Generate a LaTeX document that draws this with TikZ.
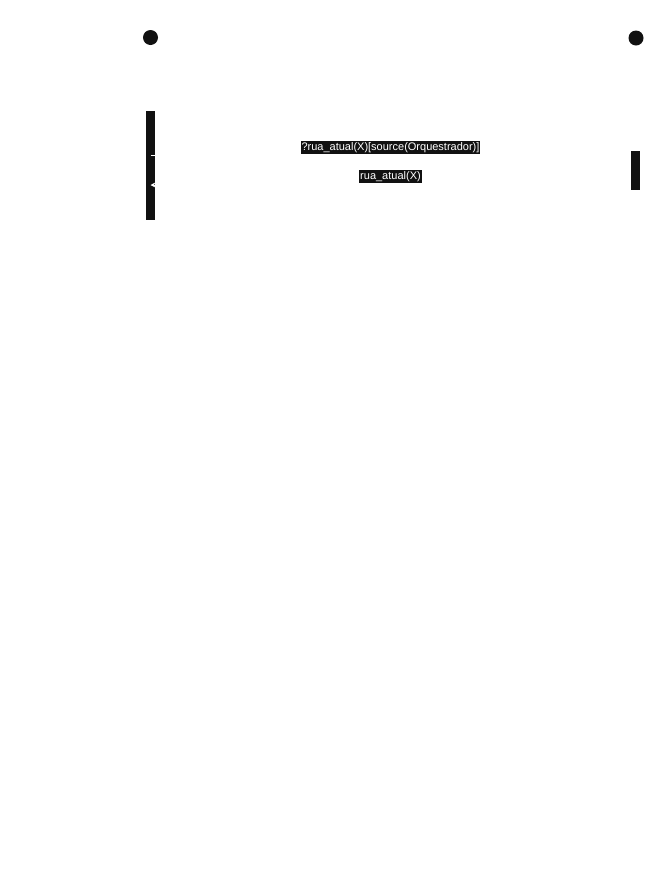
\documentclass[tikz,border=0pt]{standalone}
\usepackage{fontspec}
\setmainfont{Liberation Sans}
\usetikzlibrary{arrows.meta}
\definecolor{ink}{RGB}{17,17,17}
\begin{document}
\begin{tikzpicture}[x=1pt,y=-1pt,
    dot/.style={circle,fill=ink,inner sep=0pt,minimum size=15pt},
    bar/.style={fill=ink,inner sep=0pt,minimum width=9pt},
    msg/.style={fill=ink,text=white,inner sep=1pt,font=\fontsize{11}{12}\selectfont},
    wire/.style={white,line width=1pt,-{Stealth[length=5pt,width=5pt]}}]
    \useasboundingbox (0,0) rectangle (665,871);
    \node[dot]                      (orq)    at (150.5, 37.5) {};
    \node[dot]                      (srv)    at (636.0, 38.0) {};
    \node[bar,minimum height=109pt] (orqbar) at (150.5,165.5) {};
    \node[bar,minimum height=39pt]  (srvbar) at (635.5,170.5) {};
    \node[msg]                      (ask)    at (390.5,147.5) {?rua\_atual(X)[source(Orquestrador)]};
    \node[msg]                      (tell)   at (390.5,176.5) {rua\_atual(X)};
    \draw[wire] (orqbar.center |- 0,155) to (srvbar.west |- 0,155);
    \draw[wire] (srvbar.west |- 0,185)   to (orqbar.center |- 0,185);
  \end{tikzpicture}
\end{document}
